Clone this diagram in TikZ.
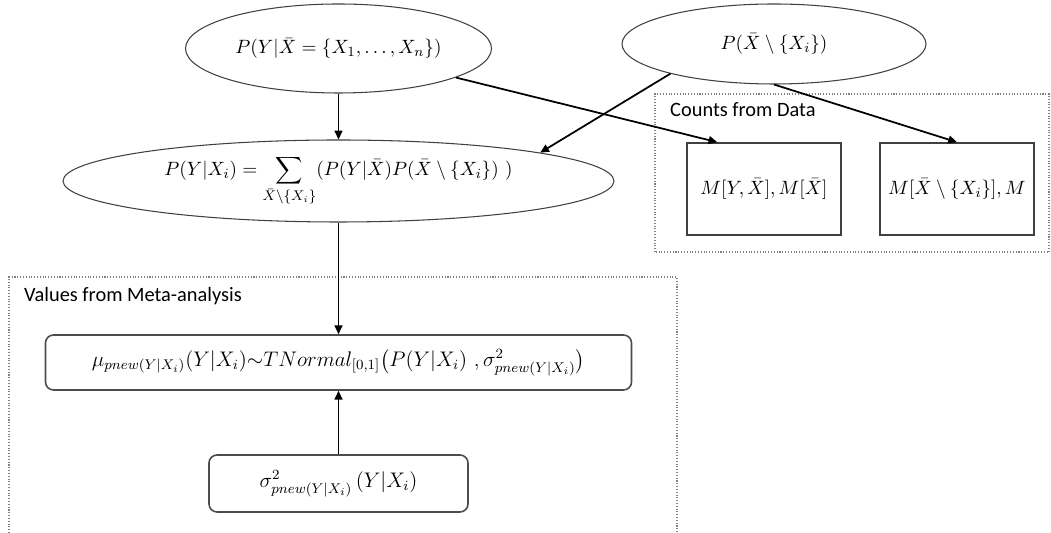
\documentclass[tikz,border=0pt]{standalone}
\usepackage{amsmath, amssymb}
\usepackage[no-math]{fontspec}
\newfontfamily\calibri{Carlito}
\usetikzlibrary{arrows.meta, shapes.geometric, calc}

\begin{document}
\begin{tikzpicture}[
  every node/.style={font=\fontsize{10.8}{13}\selectfont},
  prob/.style={ellipse, draw=black!75, line width=0.6pt, inner sep=0pt},
  count/.style={rectangle, draw=black!75, line width=0.9pt, minimum width=3.08cm, minimum height=1.84cm},
  meta/.style={rectangle, rounded corners=0.16cm, draw=black!70, line width=0.9pt},
  group/.style={gray, densely dotted, line width=0.6pt},
  grouplabel/.style={anchor=base west, font=\calibri\fontsize{11.6}{14}\selectfont},
  link/.style={-{Triangle[length=5pt,width=4.5pt]}, line width=1pt}
]
  \useasboundingbox (0,0) rectangle (21.02,10.66);

  \node[prob, minimum width=6.12cm, minimum height=1.78cm] (joint) at (6.77,9.69) {$P(Y|\bar X = \{X_1, \ldots, X_n\})$};
  \node[prob, minimum width=6.08cm, minimum height=1.60cm] (rest) at (15.48,9.78) {$P(\bar X \setminus \{X_i\})$};
  \node[prob, minimum width=11.02cm, minimum height=1.64cm] (marg) at (6.77,7.04)
    {$\displaystyle P(Y|X_i) = \sum_{\bar X \setminus \{X_i\}} (P(Y|\bar X)P(\bar X \setminus \{X_i\})\ )$};

  \draw[group] (13.10,5.62) rectangle (20.98,8.78);
  \node[grouplabel] (countlabel) at (13.28,8.32) {Counts from Data};
  \node[count] (m1) at (15.28,6.88) {$M[Y, \bar X], M[\bar X]$};
  \node[count] (m2) at (19.14,6.88) {$M[\bar X \setminus \{X_i\}], M$};

  \draw[group] (0.18,0) -- (0.18,5.12) -- (13.54,5.12) -- (13.54,0);
  \node[grouplabel] (metalabel) at (0.36,4.62) {Values from Meta-analysis};
  \node[meta, minimum width=11.72cm, minimum height=1.10cm, font=\fontsize{11.5}{14}\selectfont] (mu) at (6.77,3.41)
    {$\mu_{pnew(Y|X_i)}(Y|X_i){\sim}TNormal_{[0,1]}\bigl(P(Y|X_i)\ ,\sigma^2_{pnew(Y|X_i)}\bigr)$};
  \node[meta, minimum width=5.18cm, minimum height=1.14cm, font=\fontsize{11.5}{14}\selectfont] (sigma) at (6.77,0.99)
    {$\sigma^2_{pnew(Y|X_i)}\,(Y|X_i)$};

  \draw[link] (joint) -- (marg);
  \draw[link] (joint) -- ($(m1.north west)!0.2!(m1.north east)$);
  \draw[link] (rest.196) -- (marg.8);
  \draw[link] (rest.south) -- (m2.north);
  \draw[link] (marg) -- (mu);
  \draw[link] (sigma) -- (mu);

\end{tikzpicture}
\end{document}
